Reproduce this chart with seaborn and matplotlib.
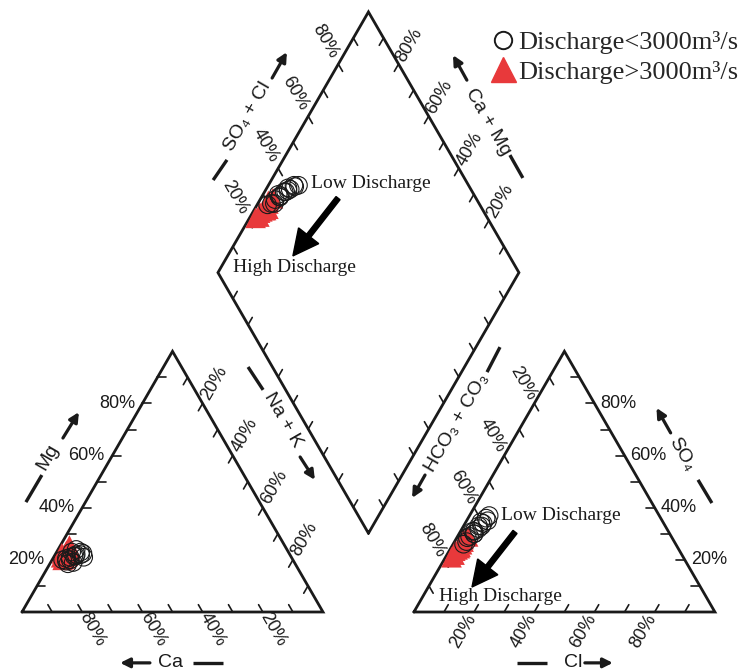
import numpy as np
import pandas as pd
import matplotlib
matplotlib.use("Agg")
import matplotlib.pyplot as plt
from matplotlib.lines import Line2D
import seaborn as sns

# ---- major-ion compositions (% of meq/L) ----
# low discharge (< 3000 m3/s)
low_mg = [21.0, 22.0, 20.0, 23.0, 19.5, 21.5, 22.5, 20.5, 24.0, 19.0, 21.0, 22.0, 20.0, 23.0, 18.5, 21.5]
low_nak = [10.0, 7.0, 6.0, 8.0, 5.0, 6.5, 9.0, 4.5, 6.0, 7.5, 5.5, 8.5, 3.5, 5.0, 6.0, 7.0]
low_ca = [69.0, 71.0, 74.0, 69.0, 75.5, 72.0, 68.5, 75.0, 70.0, 73.5, 73.5, 69.5, 76.5, 72.0, 75.5, 71.5]
low_so4 = [37.0, 33.0, 31.0, 34.0, 29.0, 32.0, 35.0, 27.0, 30.0, 33.0, 28.5, 36.0, 26.0, 31.0, 30.0, 34.5]
low_cl = [6.5, 5.0, 4.5, 6.0, 4.0, 5.5, 7.0, 4.0, 5.0, 6.0, 3.5, 6.0, 3.5, 4.0, 5.0, 5.0]
low_hco3 = [56.5, 62.0, 64.5, 60.0, 67.0, 62.5, 58.0, 69.0, 65.0, 61.0, 68.0, 58.0, 70.5, 65.0, 65.0, 60.5]

# high discharge (> 3000 m3/s)
high_mg = [22.0, 24.0, 21.0, 23.0, 20.5, 25.5, 22.5, 21.5, 23.5, 20.0]
high_nak = [3.0, 4.0, 2.5, 3.5, 4.0, 3.0, 2.0, 4.5, 3.0, 3.5]
high_ca = [75.0, 72.0, 76.5, 73.5, 75.5, 71.5, 75.5, 74.0, 73.5, 76.5]
high_so4 = [22.0, 25.0, 23.5, 27.0, 29.0, 24.0, 21.0, 26.0, 28.0, 24.5]
high_cl = [2.5, 3.0, 2.0, 3.0, 3.5, 2.5, 2.0, 3.0, 2.5, 3.0]
high_hco3 = [75.5, 72.0, 74.5, 70.0, 67.5, 73.5, 77.0, 71.0, 69.5, 72.5]

label_low = "Discharge<3000m³/s"
label_high = "Discharge>3000m³/s"
tick_values = [10, 20, 30, 40, 50, 60, 70, 80, 90]
labelled_values = [20, 40, 60, 80]

RED = "#e8393b"
INK = "#1a1a1a"

sns.set_theme(style="white")
plt.rcParams["font.family"] = ["Liberation Sans", "DejaVu Sans"]
SERIF = ["Liberation Serif", "DejaVu Serif"]

# ---- Piper geometry (triangle side = 100) ----
H = np.sqrt(3) / 2
GAP = 30.2
OX = 100 + GAP                      # origin of the anion triangle
B = np.array([100 + GAP / 2, GAP * H])
L = B + 100 * np.array([-0.5, H])
R = B + 100 * np.array([0.5, H])
T = B + 100 * np.array([0.0, 2 * H])


def cation_xy(mg, nak):
    mg, nak = np.asarray(mg), np.asarray(nak)
    return nak + 0.5 * mg, H * mg


def anion_xy(so4, cl):
    so4, cl = np.asarray(so4), np.asarray(cl)
    return OX + cl + 0.5 * so4, H * so4


def diamond_xy(camg, so4cl):
    camg, so4cl = np.asarray(camg), np.asarray(so4cl)
    return B[0] + 0.5 * (so4cl - camg), B[1] + H * (so4cl + camg)


def to_long(mg, nak, ca, so4, cl, hco3, group):
    cx, cy = cation_xy(mg, nak)
    axx, ayy = anion_xy(so4, cl)
    dx, dy = diamond_xy(np.asarray(ca) + np.asarray(mg), np.asarray(so4) + np.asarray(cl))
    frames = []
    for panel, x, y in (("cation", cx, cy), ("anion", axx, ayy), ("diamond", dx, dy)):
        frames.append(pd.DataFrame({"x": x, "y": y, "panel": panel, "group": group}))
    return pd.concat(frames, ignore_index=True)


low = to_long(low_mg, low_nak, low_ca, low_so4, low_cl, low_hco3, label_low)
high = to_long(high_mg, high_nak, high_ca, high_so4, high_cl, high_hco3, label_high)

fig = plt.figure(figsize=(7.44, 6.72), dpi=100)
ax = fig.add_axes([0, 0, 1, 1])
ax.set_xlim(-7.31, 239.87)
ax.set_ylim(-19.93, 203.32)
ax.set_aspect("equal")
ax.axis("off")

FRAME_LW = 2.0
TICK_LW = 1.2
TICK_LEN = 2.8
FS_TICK = 13
FS_TITLE = 14

# outlines
left_tri = np.array([[0, 0], [100, 0], [50, 100 * H], [0, 0]])
right_tri = np.array([[OX, 0], [OX + 100, 0], [OX + 50, 100 * H], [OX, 0]])
diamond = np.array([B, R, T, L, B])
for poly in (left_tri, right_tri, diamond):
    ax.plot(poly[:, 0], poly[:, 1], color=INK, lw=FRAME_LW, solid_joinstyle="miter", zorder=3)


def side_ticks(p0, p1, inward, label=None):
    """Ticks on side p0 -> p1 (value 0 at p0, 100 at p1)."""
    p0, p1, inward = np.asarray(p0, float), np.asarray(p1, float), np.asarray(inward, float)
    for v in tick_values:
        p = p0 + v / 100 * (p1 - p0)
        q = p + TICK_LEN * inward
        ax.plot([p[0], q[0]], [p[1], q[1]], color=INK, lw=TICK_LW, zorder=3)
        if label is not None and v in labelled_values:
            kind, dist, rot = label
            if kind == "left":
                ax.text(p[0] - dist, p[1], f"{v}%", ha="right", va="center",
                        fontsize=FS_TICK, color=INK)
            elif kind == "right":
                ax.text(p[0] + dist, p[1], f"{v}%", ha="left", va="center",
                        fontsize=FS_TICK, color=INK)
            else:
                c = p - dist * inward
                ax.text(c[0], c[1], f"{v}%", ha="center", va="center",
                        rotation=rot, rotation_mode="anchor", fontsize=FS_TICK, color=INK)


# cation triangle
side_ticks((0, 0), (50, 100 * H), (1, 0), ("left", 2.5, 0))                  # Mg
side_ticks((100, 0), (0, 0), (-0.5, H), ("along", 6.8, -60))                 # Ca
side_ticks((50, 100 * H), (100, 0), (-0.5, -H), ("along", 7.8, 60))          # Na + K
# anion triangle
side_ticks((OX, 0), (OX + 100, 0), (0.5, H), ("along", 7.3, 60))             # Cl
side_ticks((OX + 100, 0), (OX + 50, 100 * H), (-1, 0), ("right", 2.0, 0))    # SO4
side_ticks((OX + 50, 100 * H), (OX, 0), (0.5, -H), ("along", 7.6, -60))      # HCO3 + CO3
# diamond
side_ticks(L, T, (0.5, -H), ("along", 8.7, -60))                             # SO4 + Cl
side_ticks(R, T, (-0.5, -H), ("along", 7.3, 60))                             # Ca + Mg
side_ticks(L, B, (0.5, H))
side_ticks(R, B, (-0.5, H))


def axis_title(text, center, rot, dash, arrow):
    ax.text(center[0], center[1], text, ha="center", va="center", rotation=rot,
            rotation_mode="anchor", fontsize=FS_TITLE, color=INK)
    (d0, d1) = dash
    ax.plot([d0[0], d1[0]], [d0[1], d1[1]], color=INK, lw=2.4, solid_capstyle="butt")
    (a0, a1) = arrow
    ax.annotate("", xy=a1, xytext=a0,
                arrowprops=dict(arrowstyle="-|>", lw=2.3, color=INK,
                                mutation_scale=14, shrinkA=0, shrinkB=0))


axis_title("Mg", (8.6, 51.5), 60, ((1.3, 36.5), (6.6, 45.5)), ((13.6, 57.8), (18.9, 66.4)))
axis_title("Ca", (49.2, -16.9), 0, ((56.8, -16.9), (66.8, -16.9)), ((42.5, -16.9), (32.6, -16.9)))
axis_title("Na + K", (86.7, 63.8), -60, ((75.1, 81.4), (80.1, 73.8)), ((92.4, 51.5), (97.3, 43.9)))
axis_title("Cl", (183.0, -16.9), 0, ((164.5, -16.9), (174.4, -16.9)), ((187.0, -16.9), (196.3, -16.9)))
axis_title("SO₄", (219.3, 52.2), -60, ((224.6, 43.9), (229.2, 36.2)), ((215.5, 59.5), (210.8, 67.8)))
axis_title("SO₄ + Cl", (75.1, 164.5), 60, ((63.5, 143.5), (68.1, 150.2)), ((83.1, 177.4), (88.0, 186.0)))
axis_title("Ca + Mg", (154.8, 162.8), -60, ((162.1, 151.8), (166.4, 144.2)), ((147.8, 176.7), (143.2, 185.0)))
axis_title("HCO₃ + CO₃", (144.5, 62.8), 60, ((154.5, 79.7), (158.8, 88.0)), ((133.9, 45.5), (129.6, 37.9)))

# samples: high discharge first, open circles on top
sns.scatterplot(data=high, x="x", y="y", marker="^", s=220, color=RED,
                edgecolor="none", linewidth=0, legend=False, ax=ax, zorder=4)
sns.scatterplot(data=low, x="x", y="y", marker="o", s=160, facecolor="none",
                edgecolor=INK, linewidth=0.8, legend=False, ax=ax, zorder=5)

# discharge trend annotations
for low_pos, high_pos, tail, tip in (
    ((115.9, 142.5), (90.4, 114.6), (105.0, 137.5), (90.0, 118.3)),
    ((179.1, 32.2), (159.1, 5.3), (163.8, 26.6), (149.5, 8.3)),
):
    ax.text(*low_pos, "Low Discharge", ha="center", va="center", fontsize=14,
            family=SERIF, color=INK)
    ax.text(*high_pos, "High Discharge", ha="center", va="center", fontsize=14,
            family=SERIF, color=INK)
    ax.arrow(tail[0], tail[1], tip[0] - tail[0], tip[1] - tail[1], width=1.7,
             head_width=8.5, head_length=8.5, length_includes_head=True,
             color="black", zorder=6)

handles = [
    Line2D([], [], marker="o", ls="", mfc="none", mec=INK, mew=1.4, ms=12.5, label=label_low),
    Line2D([], [], marker="^", ls="", mfc=RED, mec=RED, ms=18, label=label_high),
]
ax.legend(handles=handles, loc="upper right", bbox_to_anchor=(1.0, 0.962),
          bbox_transform=fig.transFigure, frameon=False,
          prop={"family": SERIF, "size": 19}, handlelength=0.9,
          handletextpad=0.15, labelspacing=0.22, borderaxespad=0.1, borderpad=0.1)

fig.savefig("out.png", dpi=100)
